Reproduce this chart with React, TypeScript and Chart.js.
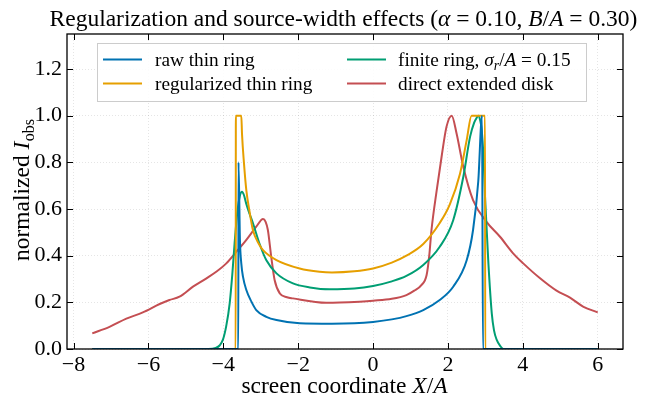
import { useEffect, useRef } from "react";
import { Chart, registerables } from "chart.js";

Chart.register(...registerables);

const FONT = '"Liberation Serif", "Times New Roman", serif';
const TITLE_FS = 23.5;
const LABEL_FS = 23.5;
const TICK_FS = 22;
const LEGEND_FS = 19.3;

// ---- data ----
const xTickValues = [-8, -6, -4, -2, 0, 2, 4, 6];
const yTickValues = [0, 0.2, 0.4, 0.6, 0.8, 1.0, 1.2];

const rawX = [-7.5, -3.6, -3.595, -3.556, -3.52, -3.475, -3.385, -3.25, -3.12, -2.85, -2.58, -1.96, -1.1, -0.5, 0, 0.5, 0.89, 1.34, 1.78, 2.14, 2.5, 2.67, 2.81, 2.91, 2.935, 6.0];
const rawY = [0, 0, 0.8, 0.467, 0.367, 0.31, 0.253, 0.203, 0.167, 0.138, 0.124, 0.11, 0.108, 0.11, 0.116, 0.127, 0.141, 0.167, 0.21, 0.267, 0.38, 0.51, 0.72, 1.0, 0, 0];

const regX = [-7.5, -3.67, -3.665, -3.52, -3.5, -3.45, -3.385, -3.3, -3.21, -3.05, -2.94, -2.58, -1.96, -1.43, -1.1, -0.5, 0, 0.5, 0.89, 1.34, 1.78, 2.05, 2.32, 2.5, 2.63, 2.99, 2.995, 6.0];
const regY = [0, 0, 1.0, 1.0, 0.92, 0.8, 0.68, 0.59, 0.51, 0.45, 0.424, 0.381, 0.345, 0.331, 0.328, 0.333, 0.345, 0.37, 0.4, 0.45, 0.54, 0.62, 0.75, 0.895, 1.0, 1.0, 0, 0];

const finX = [-7.5, -4.4, -4.2, -4.1, -4.01, -3.92, -3.83, -3.76, -3.7, -3.63, -3.56, -3.5, -3.45, -3.39, -3.3, -3.21, -3.03, -2.85, -2.58, -2.14, -1.69, -1.16, -0.5, 0, 0.5, 0.89, 1.34, 1.78, 2.14, 2.41, 2.59, 2.7, 2.77, 2.81, 2.86, 2.9, 2.95, 2.99, 3.08, 3.17, 3.23, 3.3, 3.4, 3.48, 6.0];
const finY = [0, 0, 0.005, 0.015, 0.04, 0.1, 0.196, 0.32, 0.45, 0.58, 0.655, 0.674, 0.66, 0.624, 0.58, 0.54, 0.45, 0.38, 0.324, 0.281, 0.264, 0.256, 0.259, 0.27, 0.29, 0.313, 0.36, 0.438, 0.552, 0.738, 0.909, 0.97, 0.992, 1.0, 0.98, 0.94, 0.82, 0.652, 0.367, 0.153, 0.08, 0.04, 0.012, 0, 0];

const diskX = [-7.5, -7.04, -6.59, -6.15, -5.7, -5.44, -5.17, -4.81, -4.45, -4.19, -3.92, -3.65, -3.39, -3.12, -2.94, -2.87, -2.81, -2.72, -2.63, -2.49, -2.3, -2.14, -1.25, -0.89, -0.36, 0, 0.5, 0.89, 1.1, 1.29, 1.43, 1.5, 1.56, 1.7, 1.83, 1.96, 2.1, 2.23, 2.41, 2.67, 3.03, 3.39, 3.74, 4.01, 4.46, 4.9, 5.26, 5.62, 6.0];
const diskY = [0.067, 0.095, 0.13, 0.157, 0.193, 0.21, 0.224, 0.267, 0.303, 0.331, 0.367, 0.417, 0.467, 0.524, 0.557, 0.545, 0.51, 0.395, 0.296, 0.238, 0.222, 0.217, 0.198, 0.199, 0.203, 0.207, 0.215, 0.231, 0.25, 0.274, 0.317, 0.4, 0.51, 0.681, 0.824, 0.952, 1.0, 0.924, 0.781, 0.638, 0.545, 0.481, 0.41, 0.367, 0.303, 0.25, 0.22, 0.181, 0.157];

const COLORS = ["#0072B2", "#E69F00", "#009E73", "#C44E52"];

type Seg = { t: string; i?: boolean; sub?: boolean };

const legendItems: { segs: Seg[]; color: string }[] = [
  { segs: [{ t: "raw thin ring" }], color: COLORS[0] },
  { segs: [{ t: "regularized thin ring" }], color: COLORS[1] },
  { segs: [{ t: "finite ring, " }, { t: "σ", i: true }, { t: "r", i: true, sub: true }, { t: "/" }, { t: "A", i: true }, { t: " = 0.15" }], color: COLORS[2] },
  { segs: [{ t: "direct extended disk" }], color: COLORS[3] },
];

const titleSegs: Seg[] = [
  { t: "Regularization and source-width effects (" },
  { t: "α", i: true },
  { t: " = 0.10, " },
  { t: "B", i: true },
  { t: "/" },
  { t: "A", i: true },
  { t: " = 0.30)" },
];
const xLabelSegs: Seg[] = [{ t: "screen coordinate " }, { t: "X", i: true }, { t: "/" }, { t: "A", i: true }];
const yLabelSegs: Seg[] = [{ t: "normalized " }, { t: "I", i: true }, { t: " " }, { t: "obs", sub: true }];

function fontFor(s: Seg, size: number) {
  return `${s.i ? "italic " : ""}${s.sub ? Math.round(size * 0.7) : size}px ${FONT}`;
}

function drawRich(ctx: CanvasRenderingContext2D, segs: Seg[], x: number, y: number, size: number, align: "left" | "center") {
  ctx.textAlign = "left";
  ctx.textBaseline = "alphabetic";
  const widths = segs.map((s) => {
    ctx.font = fontFor(s, size);
    return s.t === " " ? size * 0.02 : ctx.measureText(s.t).width;
  });
  const w = widths.reduce((a, b) => a + b, 0);
  let cx = align === "center" ? x - w / 2 : x;
  segs.forEach((s, k) => {
    ctx.font = fontFor(s, size);
    if (s.t !== " ") ctx.fillText(s.t, cx, s.sub ? y + size * 0.2 : y);
    cx += widths[k];
  });
}

const decorPlugin = {
  id: "decor",
  afterDraw(chart: any) {
    const ctx: CanvasRenderingContext2D = chart.ctx;
    const { left, right, top, bottom } = chart.chartArea;
    const xs = chart.scales.x;
    const ys = chart.scales.y;
    ctx.save();
    // inward ticks
    ctx.strokeStyle = "#000";
    ctx.lineWidth = 1;
    ctx.beginPath();
    for (const v of xTickValues) {
      const px = Math.round(xs.getPixelForValue(v)) + 0.5;
      ctx.moveTo(px, bottom);
      ctx.lineTo(px, bottom - 6);
      ctx.moveTo(px, top);
      ctx.lineTo(px, top + 6);
    }
    for (const v of yTickValues) {
      const py = Math.round(ys.getPixelForValue(v)) + 0.5;
      ctx.moveTo(left, py);
      ctx.lineTo(left + 6, py);
      ctx.moveTo(right, py);
      ctx.lineTo(right - 6, py);
    }
    ctx.stroke();
    // frame
    ctx.lineWidth = 1.3;
    ctx.strokeRect(left, top, right - left, bottom - top);

    // legend
    const bx = 97, by = 43, bw = 489, bh = 58;
    ctx.fillStyle = "rgba(255,255,255,0.85)";
    ctx.fillRect(bx, by, bw, bh);
    ctx.strokeStyle = "#cccccc";
    ctx.lineWidth = 1;
    ctx.strokeRect(bx + 0.5, by + 0.5, bw, bh);
    const cols = [
      { lx: 103, tx: 155 },
      { lx: 347, tx: 398 },
    ];
    const rows = [59.5, 83.5];
    legendItems.forEach((it, idx) => {
      const c = cols[Math.floor(idx / 2)];
      const ry = rows[idx % 2];
      ctx.strokeStyle = it.color;
      ctx.lineWidth = 2;
      ctx.beginPath();
      ctx.moveTo(c.lx, ry);
      ctx.lineTo(c.lx + 39, ry);
      ctx.stroke();
      ctx.fillStyle = "#000";
      drawRich(ctx, it.segs, c.tx, ry + 6.3, LEGEND_FS, "left");
    });

    // title and axis labels
    ctx.fillStyle = "#000";
    drawRich(ctx, titleSegs, 343.5, 26, TITLE_FS, "center");
    drawRich(ctx, xLabelSegs, 344.5, 393, LABEL_FS, "center");
    ctx.save();
    ctx.translate(29, 190);
    ctx.rotate(-Math.PI / 2);
    drawRich(ctx, yLabelSegs, 0, 0, LABEL_FS, "center");
    ctx.restore();
    ctx.restore();
  },
};

function mk(xs: number[], ys: number[]) {
  return xs.map((x, i) => ({ x, y: ys[i] }));
}

export default function App() {
  const ref = useRef<HTMLCanvasElement | null>(null);
  useEffect(() => {
    document.body.style.margin = "0";
    const canvas = ref.current!;
    const series = [
      { label: "raw thin ring", data: mk(rawX, rawY) },
      { label: "regularized thin ring", data: mk(regX, regY) },
      { label: "finite ring", data: mk(finX, finY) },
      { label: "direct extended disk", data: mk(diskX, diskY) },
    ];
    const chart = new Chart(canvas, {
      type: "line",
      data: {
        datasets: series.map((s, i) => ({
          label: s.label,
          data: s.data,
          borderColor: COLORS[i],
          borderWidth: 2,
          pointRadius: 0,
          fill: false,
          cubicInterpolationMode: "monotone" as const,
          borderJoinStyle: "round" as const,
        })),
      },
      options: {
        animation: false,
        responsive: false,
        devicePixelRatio: 1,
        events: [],
        layout: { padding: { left: 0, right: 23, top: 34, bottom: 0 } },
        plugins: { legend: { display: false }, tooltip: { enabled: false }, title: { display: false } },
        scales: {
          x: {
            type: "linear",
            min: -8.175,
            max: 6.675,
            afterBuildTicks: (s: any) => {
              s.ticks = xTickValues.map((v) => ({ value: v }));
            },
            afterFit: (s: any) => {
              s.height = 49;
            },
            grid: { color: "rgba(0,0,0,0.13)", lineWidth: 0.8, drawTicks: false },
            border: { display: false, dash: [1, 2] },
            ticks: {
              color: "#000",
              font: { family: FONT, size: TICK_FS },
              padding: 3,
              maxRotation: 0,
              autoSkip: false,
              callback: (v: any) => (Number(v) < 0 ? "\u2212" + Math.abs(Number(v)) : String(v)),
            },
          },
          y: {
            type: "linear",
            min: 0,
            max: 1.35,
            afterBuildTicks: (s: any) => {
              s.ticks = yTickValues.map((v) => ({ value: v }));
            },
            afterFit: (s: any) => {
              s.width = 67;
            },
            grid: { color: "rgba(0,0,0,0.13)", lineWidth: 0.8, drawTicks: false },
            border: { display: false, dash: [1, 2] },
            ticks: {
              color: "#000",
              font: { family: FONT, size: TICK_FS },
              padding: 5,
              autoSkip: false,
              callback: (v: any) => Number(v).toFixed(1),
            },
          },
        },
      },
      plugins: [decorPlugin],
    });
    return () => chart.destroy();
  }, []);
  return <canvas ref={ref} width={646} height={398} style={{ display: "block" }} />;
}
